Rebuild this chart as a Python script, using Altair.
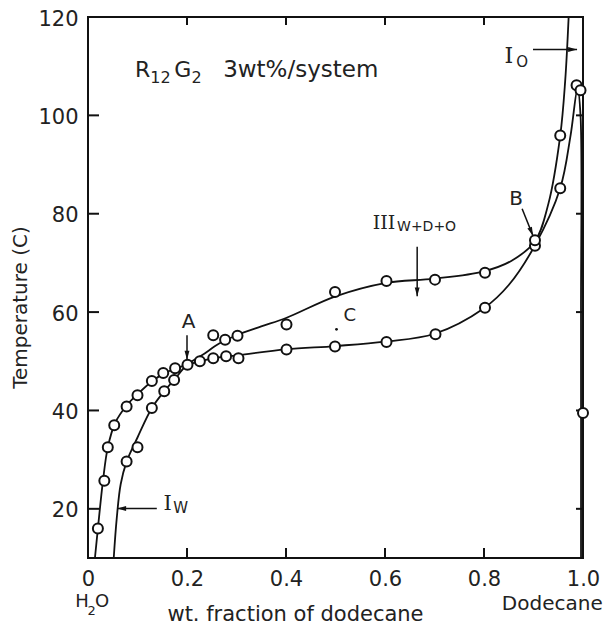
import altair as alt
import pandas as pd

# ---------------- data ----------------
# measured points (open circles)
pt_x = [0.020, 0.033, 0.040, 0.053, 0.078, 0.100, 0.129, 0.152, 0.176, 0.201,
        0.078, 0.100, 0.129, 0.154, 0.174,
        0.226, 0.253, 0.279, 0.304, 0.401, 0.499, 0.603, 0.702, 0.802, 0.903,
        0.253, 0.277, 0.302, 0.401, 0.499, 0.603, 0.701, 0.802, 0.903,
        0.954, 0.954, 0.987, 0.995, 1.000]
pt_y = [16.0, 25.7, 32.5, 37.0, 40.8, 43.1, 46.0, 47.6, 48.6, 49.3,
        29.6, 32.5, 40.5, 43.9, 46.2,
        50.0, 50.6, 51.0, 50.6, 52.4, 53.0, 53.9, 55.5, 60.9, 73.5,
        55.3, 54.4, 55.2, 57.5, 64.1, 66.3, 66.6, 68.0, 74.6,
        95.9, 85.2, 106.1, 105.1, 39.5]

# curve through water-rich boundary then lower three-phase boundary, down to pure dodecane
c1_x = [0.014, 0.020, 0.030, 0.040, 0.055, 0.078, 0.100, 0.130, 0.155, 0.180, 0.200,
        0.226, 0.252, 0.300, 0.400, 0.500, 0.600, 0.700, 0.800, 0.850, 0.903,
        0.954, 0.975, 0.989, 0.995, 0.996, 0.996]
c1_y = [10.0, 16.0, 25.5, 32.5, 37.5, 41.0, 43.3, 46.0, 47.6, 48.6, 49.3,
        50.0, 50.6, 51.2, 52.4, 53.1, 54.0, 55.6, 60.8, 65.5, 73.6,
        85.2, 96.0, 105.5, 100.0, 60.0, 10.0]

# curve I_W boundary then upper three-phase boundary, up to I_O boundary
c2_x = [0.052, 0.058, 0.066, 0.078, 0.100, 0.129, 0.154, 0.174, 0.200,
        0.230, 0.265, 0.300, 0.350, 0.400, 0.500, 0.600, 0.700, 0.800, 0.855, 0.903,
        0.930, 0.954, 0.964, 0.971]
c2_y = [10.0, 18.0, 25.0, 29.6, 34.5, 40.5, 43.9, 46.2, 49.3,
        51.2, 53.6, 55.3, 57.1, 58.8, 63.2, 65.9, 66.8, 68.3, 70.4, 74.4,
        82.0, 95.9, 107.0, 120.0]

x_ticks = [0.2, 0.4, 0.6, 0.8]
y_ticks = [20, 40, 60, 80, 100]

# arrows: start -> tip (data coords), head angle (deg, clockwise from up)
arr_x1 = [0.200, 0.665, 0.877, 0.899, 0.139]
arr_y1 = [55.3, 73.3, 81.0, 113.4, 20.05]
arr_x2 = [0.200, 0.665, 0.899, 0.988, 0.059]
arr_y2 = [50.3, 63.2, 75.5, 113.4, 20.05]
arr_ang = [180, 180, 158, 90, 270]

# sans annotations
s_text = ["A", "B", "C", "W", "O", "W+D+O"]
s_x = [0.203, 0.865, 0.529, 0.187, 0.877, 0.684]
s_y = [57.9, 82.9, 59.3, 20.2, 110.8, 77.2]
s_size = [20, 20, 18, 15, 15, 14]

# serif annotations (roman numerals / phase labels)
r_text = ["I", "I", "III"]
r_x = [0.161, 0.850, 0.598]
r_y = [20.9, 112.0, 78.1]
r_size = [21, 22, 19]

# header  R12G2  3wt%/system  (left aligned, alphabetic baseline)
h_text = ["R", "12", "G", "2", "3wt%/system"]
h_x = [0.095, 0.126, 0.174, 0.209, 0.273]
h_y = [107.7, 106.6, 107.7, 106.6, 107.7]
h_size = [22, 16, 22, 16, 23]

# end labels under the axis
e_text = ["H", "2", "O", "Dodecane"]
e_x = [-0.026, -0.001, 0.014, 0.836]
e_y = [0.0, -1.5, 0.0, -0.5]
e_size = [18, 13, 18, 20]

dot_x = [0.502]
dot_y = [56.5]

# ---------------- chart ----------------
W, H = 495, 541
xs = alt.Scale(domain=[0, 1.0], nice=False, zero=False)
ys = alt.Scale(domain=[10, 120], nice=False, zero=False)

pts = pd.DataFrame({"x": pt_x, "y": pt_y})
c1 = pd.DataFrame({"x": c1_x, "y": c1_y, "o": range(len(c1_x))})
c2 = pd.DataFrame({"x": c2_x, "y": c2_y, "o": range(len(c2_x))})
arr = pd.DataFrame({"x1": arr_x1, "y1": arr_y1, "x2": arr_x2, "y2": arr_y2, "ang": arr_ang})
stx = pd.DataFrame({"t": s_text, "x": s_x, "y": s_y, "s": s_size})
rtx = pd.DataFrame({"t": r_text, "x": r_x, "y": r_y, "s": r_size})
hdr = pd.DataFrame({"t": h_text, "x": h_x, "y": h_y, "s": h_size})
ends = pd.DataFrame({"t": e_text, "x": e_x, "y": e_y, "s": e_size})
dots = pd.DataFrame({"x": dot_x, "y": dot_y})
xt = pd.DataFrame({"v": x_ticks})
yt = pd.DataFrame({"v": y_ticks})

xaxis = alt.Axis(values=[0, 0.2, 0.4, 0.6, 0.8, 1.0],
                 labelExpr="datum.value == 0 ? '0' : format(datum.value, '.1f')",
                 ticks=False, domain=False, grid=False, labelFlush=False,
                 labelFontSize=21, labelFont="DejaVu Sans",
                 labelColor="#222", labelPadding=10, title="wt. fraction of dodecane",
                 titleFontSize=21, titleFont="DejaVu Sans", titleFontWeight="normal", titleColor="#222",
                 titleX=207, titleY=62, titleBaseline="alphabetic", titleAnchor="middle", titleAlign="center")
yaxis = alt.Axis(values=[20, 40, 60, 80, 100, 120], ticks=False, domain=False, grid=False,
                 labelFlush=False, labelOffset=2,
                 labelFontSize=21, labelFont="DejaVu Sans", labelColor="#222", labelPadding=10,
                 title="Temperature (C)", titleFontSize=20, titleFont="DejaVu Sans",
                 titleFontWeight="normal", titleColor="#222", titleAngle=270,
                 titleX=-68, titleY=290, titleBaseline="middle", titleAlign="center")

base_axes = alt.Chart(pts).mark_point(opacity=0).encode(
    x=alt.X("x:Q", scale=xs, axis=xaxis),
    y=alt.Y("y:Q", scale=ys, axis=yaxis),
)

line1 = alt.Chart(c1).mark_line(color="#111", strokeWidth=1.8, interpolate="catmull-rom").encode(
    x=alt.X("x:Q", scale=xs), y=alt.Y("y:Q", scale=ys), order="o:Q")
line2 = alt.Chart(c2).mark_line(color="#111", strokeWidth=1.8, interpolate="catmull-rom").encode(
    x=alt.X("x:Q", scale=xs), y=alt.Y("y:Q", scale=ys), order="o:Q")

circles = alt.Chart(pts).mark_point(shape="circle", filled=True, fill="white", stroke="#111",
                                     strokeWidth=2, size=100, opacity=1).encode(
    x=alt.X("x:Q", scale=xs), y=alt.Y("y:Q", scale=ys))

dot = alt.Chart(dots).mark_point(shape="circle", filled=True, color="#111", size=8, opacity=1).encode(
    x=alt.X("x:Q", scale=xs), y=alt.Y("y:Q", scale=ys))

arr_lines = alt.Chart(arr).mark_rule(color="#111", strokeWidth=1.5).encode(
    x=alt.X("x1:Q", scale=xs), y=alt.Y("y1:Q", scale=ys), x2="x2:Q", y2="y2:Q")
arr_heads = alt.Chart(arr).mark_point(shape="M0,0L0.55,2L-0.55,2Z", filled=True, color="#111",
                                       size=80, opacity=1).encode(
    x=alt.X("x2:Q", scale=xs), y=alt.Y("y2:Q", scale=ys), angle=alt.Angle("ang:Q", scale=None))

sans_lab = alt.Chart(stx).mark_text(color="#222", align="center", baseline="middle",
                                    font="DejaVu Sans").encode(
    x=alt.X("x:Q", scale=xs), y=alt.Y("y:Q", scale=ys), text="t:N",
    size=alt.Size("s:Q", scale=None))
serif_lab = alt.Chart(rtx).mark_text(color="#222", align="center", baseline="middle",
                                     font="DejaVu Serif").encode(
    x=alt.X("x:Q", scale=xs), y=alt.Y("y:Q", scale=ys), text="t:N",
    size=alt.Size("s:Q", scale=None))

header = alt.Chart(hdr).mark_text(color="#222", align="left", baseline="alphabetic",
                                  font="DejaVu Sans").encode(
    x=alt.X("x:Q", scale=xs), y=alt.Y("y:Q", scale=ys), text="t:N", size=alt.Size("s:Q", scale=None))

endlab = alt.Chart(ends).mark_text(color="#222", align="left", baseline="alphabetic",
                                   font="DejaVu Sans").encode(
    x=alt.X("x:Q", scale=xs), y=alt.Y("y:Q", scale=ys), text="t:N", size=alt.Size("s:Q", scale=None))

xtb = alt.Chart(xt).mark_rule(color="#111", strokeWidth=2).encode(
    x=alt.X("v:Q", scale=xs), y=alt.value(H), y2=alt.value(H - 10))
xtt = alt.Chart(xt).mark_rule(color="#111", strokeWidth=2).encode(
    x=alt.X("v:Q", scale=xs), y=alt.value(0), y2=alt.value(8))
ytl = alt.Chart(yt).mark_rule(color="#111", strokeWidth=2).encode(
    y=alt.Y("v:Q", scale=ys), x=alt.value(0), x2=alt.value(11))
ytr = alt.Chart(yt).mark_rule(color="#111", strokeWidth=2).encode(
    y=alt.Y("v:Q", scale=ys), x=alt.value(W), x2=alt.value(W - 7))

chart = alt.layer(base_axes, xtb, xtt, ytl, ytr, line1, line2, arr_lines, arr_heads,
                  circles, dot, sans_lab, serif_lab, header, endlab).properties(
    width=W, height=H,
    autosize=alt.AutoSizeParams(type="none"),
    padding={"left": 80, "top": 9, "right": 23, "bottom": 67},
    background="white",
).configure_view(stroke="#111", strokeWidth=2)

chart.save("out.html", embed_options={"renderer": "svg", "actions": False})
